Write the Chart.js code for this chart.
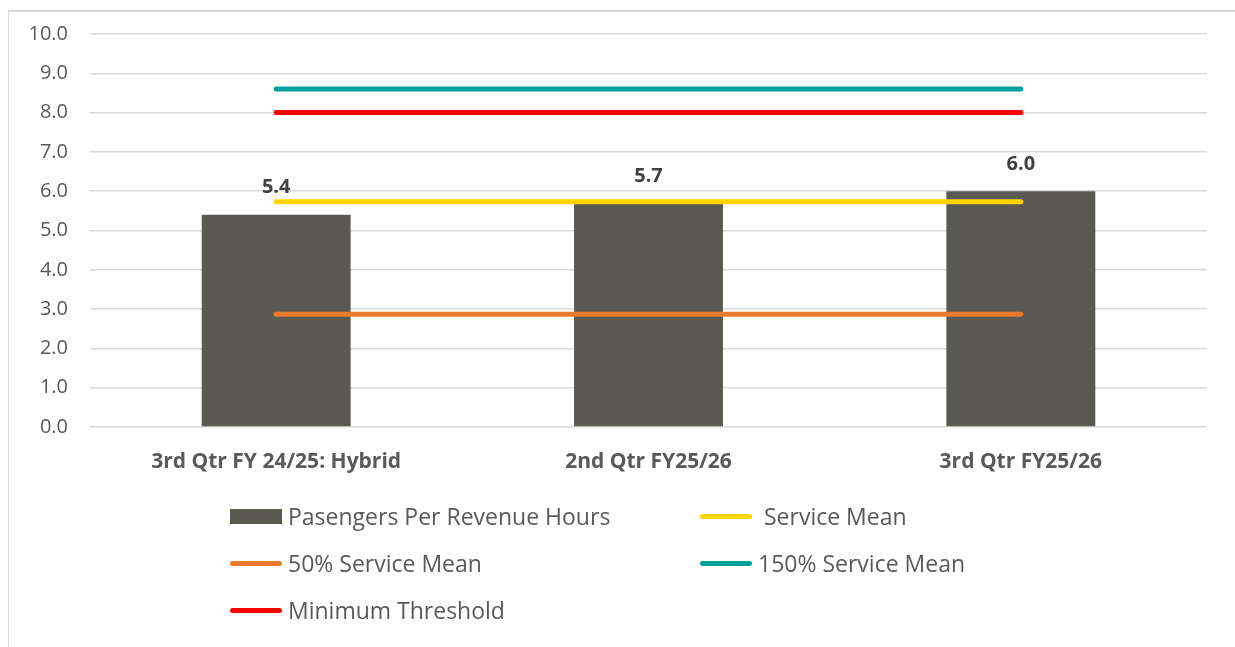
<!DOCTYPE html>
<html>
<head>
<meta charset="utf-8">
<script src="https://cdn.jsdelivr.net/npm/chart.js@4/dist/chart.umd.min.js"></script>
<style>
  html, body { margin: 0; padding: 0; background: #fff; }
  body { width: 1235px; height: 647px; position: relative; overflow: hidden; font-family: "Open Sans", sans-serif; }
  #frame { position: absolute; left: 8px; top: 10px; width: 1300px; height: 700px; border-left: 1px solid #d9d9d9; border-top: 2px solid #d9d9d9; box-sizing: border-box; }
  #wrap { position: absolute; left: 0; top: 0; width: 1235px; height: 647px; }
  #legend { position: absolute; left: 230px; top: 500px; display: grid; grid-template-columns: 470px 470px; row-gap: 15px; }
  .item { display: flex; align-items: center; height: 32px; color: #595959; font-size: 23px; }
  .mark { width: 52px; margin-right: 6px; flex: none; }
  .box { height: 15px; }
  .line { height: 5px; border-radius: 3px; }
</style>
</head>
<body>
<div id="frame"></div>
<div id="wrap"><canvas id="c" width="1235" height="647"></canvas></div>
<div id="legend"></div>
<script>
const categories = ["3rd Qtr FY 24/25: Hybrid", "2nd Qtr FY25/26", "3rd Qtr FY25/26"];
const passengersPerRevenueHour = [5.4, 5.7, 6.0];
const serviceMean = [5.73, 5.73, 5.73];
const halfServiceMean = [2.87, 2.87, 2.87];
const oneHalfServiceMean = [8.6, 8.6, 8.6];
const minimumThreshold = [8.0, 8.0, 8.0];
const yTicks = [0, 1, 2, 3, 4, 5, 6, 7, 8, 9, 10];

const barColor = "#5a5a52";
const lineDefaults = { type: "line", borderWidth: 5, pointRadius: 0, borderCapStyle: "round", fill: false, tension: 0 };

const valueLabels = {
  id: "valueLabels",
  afterDatasetsDraw(chart) {
    const meta = chart.getDatasetMeta(0);
    const ctx = chart.ctx;
    ctx.save();
    ctx.font = "bold 20px 'Open Sans', sans-serif";
    ctx.fillStyle = "#404040";
    ctx.textAlign = "center";
    ctx.textBaseline = "middle";
    meta.data.forEach((el, i) => {
      ctx.fillText(passengersPerRevenueHour[i].toFixed(1), el.x, el.y - 27);
    });
    ctx.restore();
  }
};

const chart = new Chart(document.getElementById("c"), {
  data: {
    labels: categories,
    datasets: [
      { type: "bar", label: "Pasengers Per Revenue Hours", data: passengersPerRevenueHour, backgroundColor: barColor, barPercentage: 0.8, categoryPercentage: 0.5, order: 10 },
      Object.assign({}, lineDefaults, { label: " Service Mean", data: serviceMean, borderColor: "#ffd600", backgroundColor: "#ffd600", order: 1 }),
      Object.assign({}, lineDefaults, { label: "50% Service Mean", data: halfServiceMean, borderColor: "#ea7a2c", backgroundColor: "#ea7a2c", order: 2 }),
      Object.assign({}, lineDefaults, { label: "150% Service Mean", data: oneHalfServiceMean, borderColor: "#00a19a", backgroundColor: "#00a19a", order: 3 }),
      Object.assign({}, lineDefaults, { label: "Minimum Threshold", data: minimumThreshold, borderColor: "#ff0000", backgroundColor: "#ff0000", order: 4 })
    ]
  },
  options: {
    responsive: false,
    animation: false,
    layout: { padding: { top: 34, right: 28, left: 8, bottom: 160 } },
    plugins: { legend: { display: false }, tooltip: { enabled: false }, title: { display: false } },
    scales: {
      x: {
        offset: true,
        grid: { display: false, drawTicks: false },
        border: { display: false },
        ticks: { color: "#595959", padding: 22, font: { family: "'Open Sans', sans-serif", size: 21, weight: "bold" } },
        afterFit(s) { s.height = 60; }
      },
      y: {
        min: 0, max: 10,
        afterBuildTicks(s) { s.ticks = yTicks.map(v => ({ value: v })); },
        grid: { color: "#d9d9d9", lineWidth: 1.5, drawTicks: false },
        border: { display: false },
        ticks: { color: "#595959", padding: 22, font: { family: "'Open Sans', sans-serif", size: 20 }, callback: v => Number(v).toFixed(1) },
        afterFit(s) { s.width = 82; }
      }
    }
  },
  plugins: [valueLabels]
});

// HTML legend built from the chart's datasets
const legendOrder = [0, 1, 2, 3, 4];
const legendEl = document.getElementById("legend");
legendOrder.forEach(i => {
  const ds = chart.data.datasets[i];
  const item = document.createElement("div");
  item.className = "item";
  const mark = document.createElement("span");
  const isBar = (ds.type || "bar") === "bar";
  mark.className = "mark " + (isBar ? "box" : "line");
  mark.style.background = isBar ? ds.backgroundColor : ds.borderColor;
  const txt = document.createElement("span");
  txt.textContent = ds.label;
  txt.style.whiteSpace = "pre";
  item.appendChild(mark);
  item.appendChild(txt);
  legendEl.appendChild(item);
});
</script>
</body>
</html>
